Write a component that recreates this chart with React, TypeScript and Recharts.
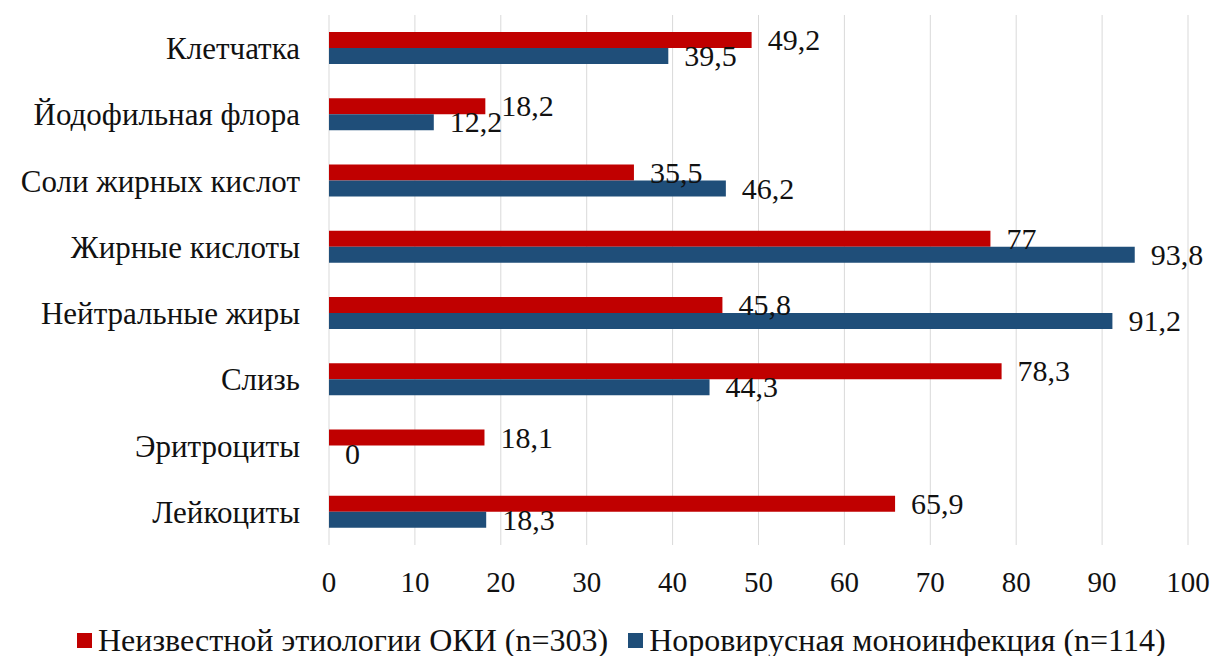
import { Bar, BarChart, CartesianGrid, LabelList, Legend, XAxis, YAxis } from "recharts";

// Показатели копрограммы, % — две группы ОКИ
const categories = [
  "Клетчатка",
  "Йодофильная флора",
  "Соли жирных кислот",
  "Жирные кислоты",
  "Нейтральные жиры",
  "Слизь",
  "Эритроциты",
  "Лейкоциты",
];
const unknownEtiology = [49.2, 18.2, 35.5, 77, 45.8, 78.3, 18.1, 65.9];
const norovirus = [39.5, 12.2, 46.2, 93.8, 91.2, 44.3, 0, 18.3];
const xTicks = [0, 10, 20, 30, 40, 50, 60, 70, 80, 90, 100];

const SERIES = [
  { key: "unknown", name: "Неизвестной этиологии ОКИ (n=303)", color: "#C00000" },
  { key: "noro", name: "Норовирусная моноинфекция (n=114)", color: "#1F4E79" },
];

const FONT = "Liberation Serif, Tinos, DejaVu Serif, serif";
const GRID = "#d9d9d9";
const TEXT = "#111";

const fmt = (v: number) => String(v).replace(".", ",");

const data = categories.map((c, i) => ({
  cat: c,
  unknown: unknownEtiology[i],
  noro: norovirus[i],
  unknownLbl: fmt(unknownEtiology[i]),
  noroLbl: fmt(norovirus[i]),
}));

// нулевой столбик иначе не получает подпись
const zeroSafe = (v: any) => (Number(v) === 0 ? 0.01 : 0);

function ValueLabel(props: any) {
  const { x, y, width, height, value } = props;
  return (
    <text
      x={Number(x) + Number(width || 0) + 16}
      y={Number(y) + Number(height) / 2 + 10}
      fill={TEXT}
      style={{ fontFamily: FONT, fontSize: 30 }}
    >
      {value}
    </text>
  );
}

function LegendBox() {
  return (
    <div
      style={{
        height: 56,
        paddingTop: 24,
        boxSizing: "border-box",
        paddingLeft: 77,
        display: "flex",
        alignItems: "center",
        fontFamily: FONT,
        fontSize: 32,
        color: TEXT,
        lineHeight: "32px",
      }}
    >
      {SERIES.map((s, i) => (
        <span
          key={s.key}
          style={{ display: "flex", alignItems: "center", marginRight: i === 0 ? 20 : 0 }}
        >
          <span style={{ width: 15, height: 15, background: s.color, marginRight: 6 }} />
          {s.name}
        </span>
      ))}
    </div>
  );
}

export default function App() {
  return (
    <div style={{ fontFamily: FONT }}>
      <style>{`body{margin:0;background:#fff}`}</style>
      <BarChart
        width={1213}
        height={656}
        data={data}
        layout="vertical"
        margin={{ top: 15, right: 25, left: 0, bottom: 0 }}
        barGap={0}
      >
        <CartesianGrid stroke={GRID} horizontal={false} />
        <XAxis
          type="number"
          domain={[0, 100]}
          ticks={xTicks}
          height={55}
          tickLine={false}
          axisLine={false}
          tickMargin={20}
          tick={{ fill: TEXT, fontFamily: FONT, fontSize: 29 }}
        />
        <YAxis
          type="category"
          dataKey="cat"
          width={329}
          tickLine={false}
          axisLine={false}
          tickMargin={23}
          tick={{ fill: TEXT, fontFamily: FONT, fontSize: 31 }}
        />
        <Legend verticalAlign="bottom" height={56} content={<LegendBox />} />
        {SERIES.map((s) => (
          <Bar
            key={s.key}
            dataKey={s.key}
            name={s.name}
            fill={s.color}
            barSize={16}
            minPointSize={zeroSafe}
            isAnimationActive={false}
          >
            <LabelList dataKey={s.key + "Lbl"} content={<ValueLabel />} />
          </Bar>
        ))}
      </BarChart>
    </div>
  );
}
